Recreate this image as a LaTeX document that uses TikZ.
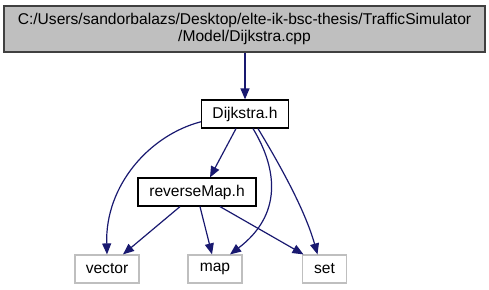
\documentclass[tikz,border=0pt]{standalone}
\usepackage{fontspec}
\setmainfont{Liberation Sans}
\usetikzlibrary{arrows.meta}
\definecolor{edgeblue}{HTML}{191970}
\definecolor{boxgray}{HTML}{BFBFBF}
\definecolor{leafgray}{HTML}{BFBFBF}
\definecolor{rootline}{HTML}{404040}
\begin{document}
\begin{tikzpicture}[x=1pt, y=-1pt, line width=1.2pt,
		font=\fontsize{15.6}{17}\selectfont,
		root/.style = {draw=rootline, fill=boxgray, minimum width=481pt, minimum height=46pt, align=center, inner sep=0pt},
		main/.style = {draw=black, minimum height=28pt, inner sep=0pt},
		leaf/.style = {draw=leafgray, minimum height=28pt, inner sep=0pt},
		dep/.style = {draw=edgeblue, -{Triangle[length=11pt, width=9pt]}}]
		\useasboundingbox (0, 0) rectangle (489, 289);
		\node[root] (cpp) at (244.5, 29) {C:/Users/sandorbalazs/Desktop/elte-ik-bsc-thesis/TrafficSimulator\\/Model/Dijkstra.cpp};
		\node[main, minimum width=87pt] (dijkstra) at (245, 114) {Dijkstra.h};
		\node[main, minimum width=118pt] (revmap) at (197, 192) {reverseMap.h};
		\node[leaf, minimum width=64pt] (vector) at (107, 269) {vector};
		\node[leaf, minimum width=54pt] (map) at (215, 269) {map};
		\node[leaf, minimum width=44pt] (set) at (324.5, 269) {set};
		\draw[dep] (cpp.south -| dijkstra) -- (dijkstra.north);
		\draw[dep] (dijkstra.south) ++(-9, 0) -- ([xshift=13pt]revmap.north);
		\draw[dep] (dijkstra.190) .. controls (150, 135) and (105, 185) .. (vector.north);
		\draw[dep] ([xshift=8pt]dijkstra.south) .. controls (278, 170) and (282, 215) .. ([xshift=15pt]map.north);
		\draw[dep] ([xshift=13pt]dijkstra.south) .. controls (280, 165) and (305, 210) .. ([xshift=-7pt]set.north);
		\draw[dep] ([xshift=-17pt]revmap.south) -- ([xshift=16pt]vector.north);
		\draw[dep] ([xshift=3pt]revmap.south) -- ([xshift=-3pt]map.north);
		\draw[dep] ([xshift=23pt]revmap.south) -- ([xshift=-21pt]set.north);
	\end{tikzpicture}
\end{document}
